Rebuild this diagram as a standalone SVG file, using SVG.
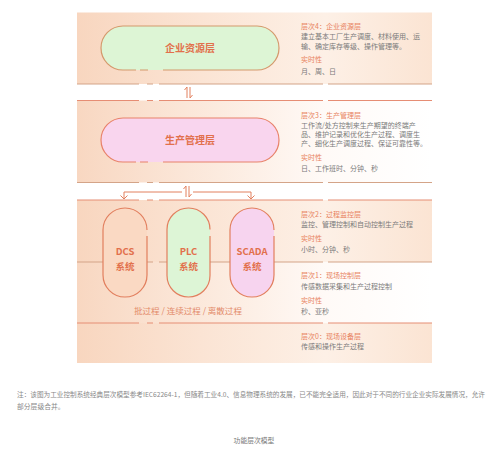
<svg xmlns="http://www.w3.org/2000/svg" width="499" height="462" viewBox="0 0 499 462">
<defs>
<linearGradient id="gP" gradientUnits="userSpaceOnUse" x1="77" y1="0" x2="432" y2="0">
<stop offset="0" stop-color="#f8d6bf"/><stop offset="0.35" stop-color="#fbe4d4"/><stop offset="0.7" stop-color="#fdf0e6"/><stop offset="1" stop-color="#fbe4d3"/>
</linearGradient>
<linearGradient id="gW" gradientUnits="userSpaceOnUse" x1="77" y1="0" x2="432" y2="0">
<stop offset="0" stop-color="#f8d7c1"/><stop offset="0.4" stop-color="#fcebdf"/><stop offset="0.7" stop-color="#fffaf7"/><stop offset="1" stop-color="#ffffff"/>
</linearGradient>
<style>
text{font-family:"Noto Sans CJK SC","Noto Sans",sans-serif}
.t{font-size:10px;font-weight:bold;fill:#e2704c;text-anchor:middle}
.s{font-size:9.5px;font-weight:bold;fill:#e2704c;text-anchor:middle}
.h{font-size:7px;fill:#e8835f}
.b{font-size:7px;fill:#7a7a7a}
.sepA{fill:none;stroke:#d4a488;stroke-width:1.2}
.sepB{fill:none;stroke:#e68d74;stroke-width:1.2}
.pill{stroke-width:1.2;fill:none}
.arr{fill:none;stroke:#e2805e;stroke-width:1}
.note{font-size:6.8px;fill:#888}
</style>
</defs>

<g id="bands">
<rect x="77" y="12.5" width="355" height="71.5" fill="url(#gP)"/>
<rect x="77" y="100.5" width="355" height="82" fill="url(#gW)"/>
<rect x="77" y="200" width="355" height="62" fill="url(#gP)"/>
<rect x="77" y="262" width="355" height="61" fill="url(#gW)"/>
<rect x="77" y="323" width="355" height="40" fill="url(#gP)"/>
</g>

<g id="separators">
<path class="sepA" d="M77 84H139M147 84H153M159 84H323M328 84H432"/>
<path class="sepB" d="M77 100.5H139M147 100.5H153M159 100.5H323M328 100.5H432"/>
<path class="sepA" d="M77 182.5H139M147 182.5H153M159 182.5H323M328 182.5H432"/>
<path class="sepB" d="M77 200H139M147 200H153M159 200H323M328 200H432"/>
<path class="sepA" d="M77 262H139M147 262H153M159 262H323M328 262H432"/>
<path class="sepB" d="M77 323H139M147 323H153M159 323H323M328 323H432"/>
</g>

<g id="node-erp">
<rect x="101" y="26" width="178" height="44" rx="22" fill="#ddf5d5"/>
<path class="pill" stroke="#d4996c" d="M136 70H123A22 22 0 0 1 123 26H257A22 22 0 0 1 257 70H163M148 70H140"/>
<text class="t" x="190" y="51.5">企业资源层</text>
</g>

<g id="node-mes">
<rect x="101" y="118" width="178" height="44" rx="22" fill="#f9d5ee"/>
<path class="pill" stroke="#e8826a" d="M136 162H123A22 22 0 0 1 123 118H257A22 22 0 0 1 257 162H163M148 162H140"/>
<text class="t" x="190" y="143.5">生产管理层</text>
</g>

<g id="node-dcs">
<rect x="103" y="208" width="44" height="89" rx="22" fill="#fad9c3"/>
<path class="pill" stroke="#e27f5e" d="M147 236V275A22 22 0 0 1 103 275V230A22 22 0 0 1 147 230"/>
<text class="s" x="125" y="255">DCS</text>
<text class="s" x="125" y="269.5">系统</text>
</g>

<g id="node-plc">
<rect x="167" y="208" width="43" height="89" rx="21.5" fill="#ddf5d6"/>
<path class="pill" stroke="#e27f5e" d="M210 236V275.5A21.5 21.5 0 0 1 167 275.5V229.5A21.5 21.5 0 0 1 210 229.5"/>
<text class="s" x="188.5" y="255">PLC</text>
<text class="s" x="188.5" y="269.5">系统</text>
</g>

<g id="node-scada">
<rect x="230" y="208" width="44" height="89" rx="22" fill="#f7d4ef"/>
<path class="pill" stroke="#e27f5e" d="M274 236V275A22 22 0 0 1 230 275V230A22 22 0 0 1 274 230"/>
<text class="s" x="252" y="255">SCADA</text>
<text class="s" x="252" y="269.5">系统</text>
</g>

<g id="process-label">
<text x="188" y="314" style="font-size:8.5px;fill:#e38a6a;text-anchor:middle">批过程 / 连续过程 / 离散过程</text>
</g>

<g id="level4">
<text class="h" x="301" y="29">层次4：企业资源层</text>
<text class="b" x="301" y="39">建立基本工厂生产调度、材料使用、运</text>
<text class="b" x="301" y="48.5">输、确定库存等级、操作管理等。</text>
<text class="h" x="301" y="62">实时性</text>
<text class="b" x="301" y="73.5">月、周、日</text>
</g>
<g id="level3">
<text class="h" x="301" y="117.6">层次3：生产管理层</text>
<text class="b" x="301" y="127.6">工作流/处方控制来生产期望的终端产</text>
<text class="b" x="301" y="136.9">品、维护记录和优化生产过程、调度生</text>
<text class="b" x="301" y="146.2">产、细化生产调度过程、保证可靠性等。</text>
<text class="h" x="301" y="159.6">实时性</text>
<text class="b" x="301" y="170.9">日、工作班时、分钟、秒</text>
</g>
<g id="level2">
<text class="h" x="301" y="216.9">层次2：过程监控层</text>
<text class="b" x="301" y="226.9">监控、管理控制和自动控制生产过程</text>
<text class="h" x="301" y="240.9">实时性</text>
<text class="b" x="301" y="251.9">小时、分钟、秒</text>
</g>
<g id="level1">
<text class="h" x="301" y="278.3">层次1：现场控制层</text>
<text class="b" x="301" y="288.6">传感数据采集和生产过程控制</text>
<text class="h" x="301" y="302.6">实时性</text>
<text class="b" x="301" y="313.6">秒、亚秒</text>
</g>
<g id="level0">
<text class="h" x="301" y="339.3">层次0：现场设备层</text>
<text class="b" x="301" y="349.3">传感和操作生产过程</text>
</g>

<g id="connectors">
<path class="arr" d="M187 98V87L184.5 90M190 87V98L192.5 95"/>
<path class="arr" d="M186 197V186L183.5 189M189 186V197L191.5 194"/>
<path class="arr" d="M182 192H124V199M120.5 195.5L124 199L127.5 195.5"/>
<path class="arr" d="M193 192H251V199M247.5 195.5L251 199L254.5 195.5"/>
</g>

<g id="notes">
<text class="note" x="17" y="396.5" textLength="468" lengthAdjust="spacingAndGlyphs">注：该图为工业控制系统经典层次模型参考IEC62264-1，但随着工业4.0、信息物理系统的发展，已不能完全适用，因此对于不同的行业企业实际发展情况，允许</text>
<text class="note" x="17" y="409">部分层级合并。</text>
<text class="note" x="254" y="442.5" style="text-anchor:middle;fill:#777">功能层次模型</text>
</g>
</svg>
